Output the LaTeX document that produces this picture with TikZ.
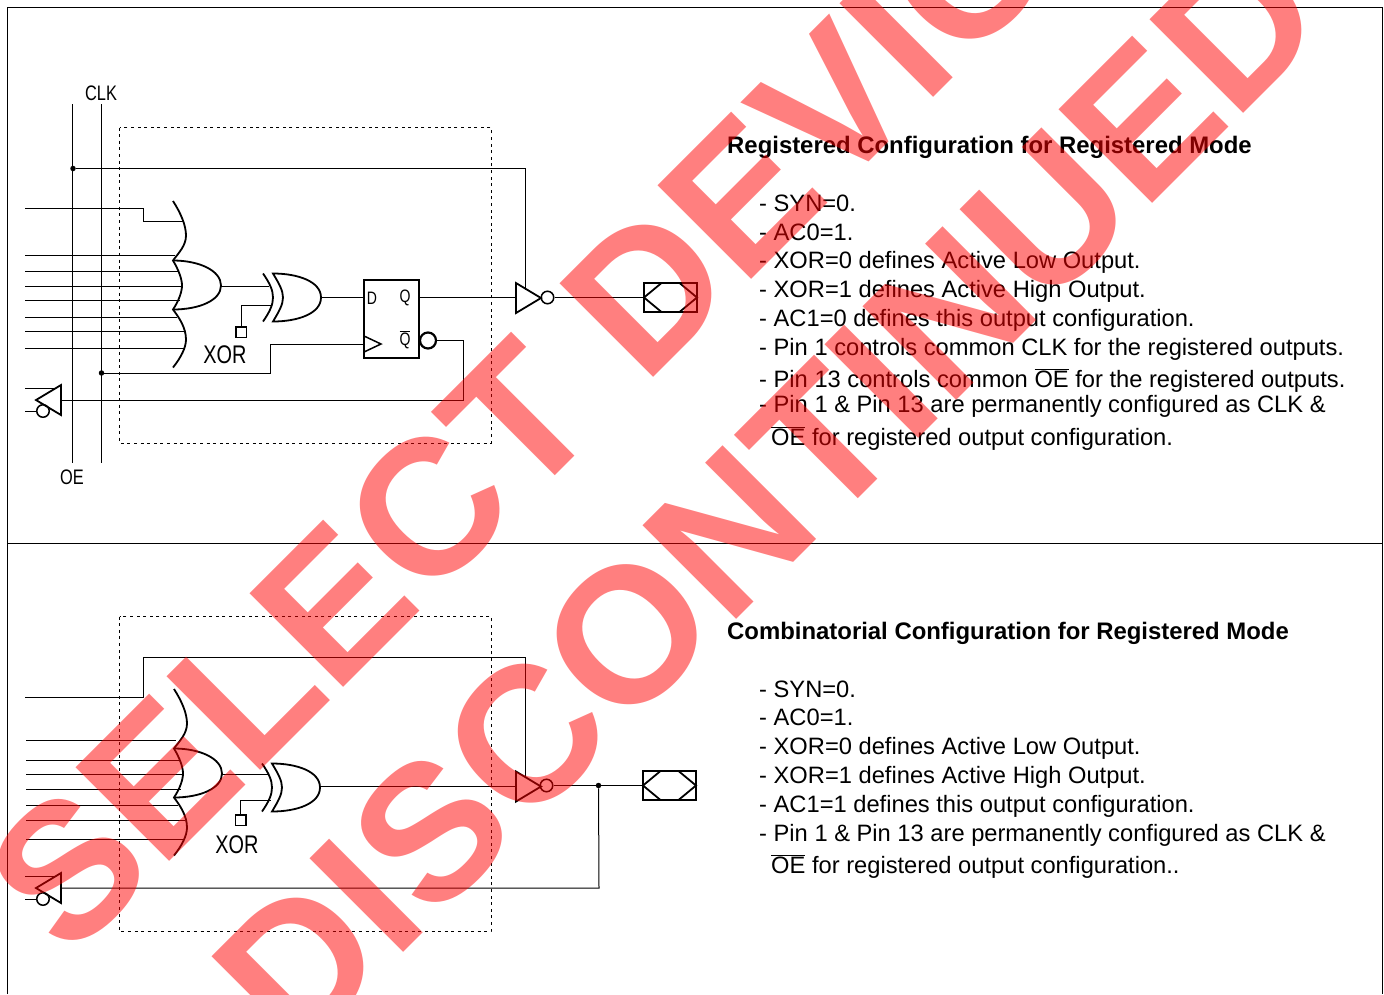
\documentclass[tikz,border=0pt]{standalone}
\usepackage{fontspec}
\setmainfont{Liberation Sans}
\newfontfamily\narrowfont[FakeStretch=0.78]{Liberation Sans}
\usetikzlibrary{positioning}

\tikzset{
  wire/.style={line width=1pt},
  shape line/.style={line width=1.8pt},
  fence/.style={line width=1pt,dash pattern=on 3pt off 3.6pt},
  dotj/.style={circle,fill=black,inner sep=0pt,minimum size=5.5pt},
  bub/.style={circle,draw,line width=1.5pt,inner sep=0pt,minimum size=12.5pt},
  ffbox/.style={rectangle,draw,line width=1.8pt,inner sep=0pt,minimum width=55pt,minimum height=78pt},
  padbox/.style={rectangle,draw,line width=1.8pt,inner sep=0pt,minimum width=53pt,minimum height=29pt},
  xorsq/.style={rectangle,draw,line width=1.5pt,inner sep=0pt,minimum size=10.5pt},
  xorlbl/.style={font=\narrowfont\fontsize{25.5}{25.5}\selectfont,inner sep=0pt},
  netlbl/.style={font=\narrowfont\fontsize{21}{21}\selectfont,inner sep=0pt},
  pinlbl/.style={font=\narrowfont\fontsize{18}{18}\selectfont,inner sep=0pt},
  title/.style={font=\bfseries\fontsize{23.9}{24}\selectfont,anchor=base west,inner sep=0pt},
  note/.style={font=\fontsize{23.7}{24}\selectfont,anchor=base west,inner sep=0pt},
  stamp/.style={font=\bfseries\fontsize{192.5}{192.5}\selectfont,text=red,text opacity=0.5,rotate=45,anchor=base west,inner sep=0pt},
  pics/wideor/.style={code={
    \draw[shape line] (-11,-84.5) .. controls (-3,-72) and (2,-60) .. (2,-50) .. controls (2,-40) and (-5,-33) .. (-11,-25) .. controls (-5,-15) and (-2,-6) .. (-2,0)
      .. controls (-2,6) and (-5,15) .. (-11,24) .. controls (-5,32) and (2,42) .. (2,54) .. controls (2,62) and (-3,72) .. (-11,82);
    \draw[shape line] (-11,-25) .. controls (15,-25) and (37,-15) .. (37,0) .. controls (37,15) and (15,24) .. (-11,24);
  }},
  pics/xorg/.style={code={
    \draw[shape line] (-10,-24) .. controls (-3,-14) and (0,-7) .. (0,0) .. controls (0,7) and (-3,14) .. (-10,24);
    \draw[shape line] (0,-24) .. controls (6,-14) and (10,-7) .. (10,0) .. controls (10,7) and (6,14) .. (0,24)
      .. controls (25,24) and (48,16) .. (48,0) .. controls (48,-16) and (25,-24) .. (0,-24) -- cycle;
  }},
  pics/bufr/.style={code={
    \draw[shape line] (0,-15) -- (25,0) -- (0,15) -- cycle;
  }},
  pics/bufl/.style={code={
    \draw[shape line] (0,-15) -- (-25,0) -- (0,15) -- cycle;
  }},
  pics/hexa/.style={code={
    \draw[shape line] (-9,-14.5) -- (-26.5,0) -- (-9,14.5) (9,-14.5) -- (26.5,0) -- (9,14.5);
  }}
}

\begin{document}
\begin{tikzpicture}[x=1pt,y=-1pt]
  \useasboundingbox (0,0) rectangle (1384,994);

  % outer frame
  \coordinate (fa) at (7.5,994);
  \coordinate (fb) at (7.5,7.5);
  \coordinate (fc) at (1382.5,7.5);
  \coordinate (fd) at (1382.5,994);
  \coordinate (fe) at (7.5,543.5);
  \coordinate (ff) at (1382.5,543.5);
  \draw[wire] (fa) -- (fb) -- (fc) -- (fd);
  \draw[wire] (fe) -- (ff);

  % registered configuration
  \draw[fence] (119.5,127.5) rectangle (491,443);
  \coordinate (oet) at (72.5,104);
  \coordinate (oeb) at (72.5,463);
  \coordinate (clkt) at (101.5,104);
  \coordinate (clkb) at (101.5,463);
  \draw[wire] (oet) -- (oeb);
  \draw[wire] (clkt) -- (clkb);
  \node[netlbl] (clklbl) at (101,93) {CLK};
  \node[netlbl] (oelbl) at (72,477) {OE};

  \node[dotj] (oej) at (73,168.5) {};
  \node[dotj] (clkj) at (101.5,373) {};

  \pic at (184,285.5) {wideor};
  \pic at (273,297.5) {xorg};
  \node[ffbox] (ff1) at (391.5,319) {};
  \node[pinlbl] (dlbl) at (372,298) {D};
  \node[pinlbl] (qlbl) at (405,298) {Q};
  \node[pinlbl] (nqlbl) at (405,340) {$\overline{\mbox{Q}}$};
  \draw[wire,line width=1.5pt] (364,336) -- (381,344) -- (364,352);
  \node[bub,line width=2.2pt,minimum size=16pt] (nq) at (428,340.5) {};
  \pic at (516,298) {bufr};
  \node[bub] (oebub1) at (547.5,297.5) {};
  \node[padbox] (pad1) at (670.5,297.5) {};
  \pic at (670.5,297.5) {hexa};
  \pic at (61,400) {bufl};
  \node[bub] (inbub1) at (43,411) {};
  \node[xorsq] (xbox1) at (241,332) {};
  \node[xorlbl] (xlbl1) at (225,355) {XOR};

  \foreach \yy/\xx in {255/175,271/178,286/182,300/180,317/177,331.5/184,348/184}
    \draw[wire] (25,\yy) -- (\xx,\yy);
  \draw[wire] (25,208.5) -- (143.5,208.5) -- (143.5,221) -- (183,221);
  \draw[wire] (oej) -- (525,168.5) -- (525,290);
  \draw[wire] (221,286) -- (269,286);
  \draw[wire] (xbox1) |- (272,305);
  \draw[wire] (321,297.5) -- (ff1.west |- 321,297.5);
  \draw[wire] (clkj) -- (270.5,373) -- (270.5,344) -- (364,344);
  \draw[wire] (ff1.east |- 419,297.5) -- (516,297.5);
  \draw[wire] (oebub1) -- (pad1);
  \draw[wire] (nq) -- (463.5,340.5) -- (463.5,400.5) -- (61,400.5);
  \draw[wire] (25,388) -- (55,388);
  \draw[wire] (25,411) -- (inbub1);

  % combinatorial configuration
  \draw[fence] (119.5,616.5) rectangle (491,931.5);
  \pic at (185,773.5) {wideor};
  \pic at (272,787.5) {xorg};
  \pic at (516,786.5) {bufr};
  \node[bub] (oebub2) at (546.5,785.5) {};
  \node[dotj] (outj) at (598.5,785.5) {};
  \node[padbox] (pad2) at (669.5,785.5) {};
  \pic at (669.5,785.5) {hexa};
  \pic at (61,888) {bufl};
  \node[bub] (inbub2) at (43,899) {};
  \node[xorsq] (xbox2) at (240.5,820) {};
  \node[xorlbl] (xlbl2) at (237,845) {XOR};

  \foreach \yy/\xx in {740/176,760/179,774/183,789/181,805/178,820/185,839/185}
    \draw[wire] (26,\yy) -- (\xx,\yy);
  \draw[wire] (25,697) -- (143.5,697) -- (143.5,657) -- (525,657) -- (525,778);
  \draw[wire] (222,774) -- (268,774);
  \draw[wire] (xbox2) |- (271,800);
  \draw[wire] (320,786.5) -- (516,786.5);
  \draw[wire] (oebub2) -- (pad2);
  \draw[wire] (outj) -- (599,888) -- (61,888);
  \draw[wire] (25,876) -- (55,876);
  \draw[wire] (25,899) -- (inbub2);

  % notes
  \node[title] (t1) at (727,153) {Registered Configuration for Registered Mode};
  \node[note] (n1) at (759,211) {- SYN=0.};
  \node[note] (n2) at (759,240) {- AC0=1.};
  \node[note] (n3) at (759,268) {- XOR=0 defines Active Low Output.};
  \node[note] (n4) at (759,297) {- XOR=1 defines Active High Output.};
  \node[note] (n5) at (759,326) {- AC1=0 defines this output configuration.};
  \node[note] (n6) at (759,355) {- Pin 1 controls common CLK for the registered outputs.};
  \node[note] (n7) at (759,387) {- Pin 13 controls common $\overline{\mbox{OE}}$ for the registered outputs.};
  \node[note] (n8) at (759,412) {- Pin 1 \& Pin 13 are permanently configured as CLK \&};
  \node[note] (n9) at (771,445) {$\overline{\mbox{OE}}$ for registered output configuration.};

  \node[title] (t2) at (727,639) {Combinatorial Configuration for Registered Mode};
  \node[note] (m1) at (759,697) {- SYN=0.};
  \node[note] (m2) at (759,725) {- AC0=1.};
  \node[note] (m3) at (759,754) {- XOR=0 defines Active Low Output.};
  \node[note] (m4) at (759,783) {- XOR=1 defines Active High Output.};
  \node[note] (m5) at (759,812) {- AC1=1 defines this output configuration.};
  \node[note] (m6) at (759,841) {- Pin 1 \& Pin 13 are permanently configured as CLK \&};
  \node[note] (m7) at (771,873) {$\overline{\mbox{OE}}$ for registered output configuration..};

  % watermark
  \node[stamp] (w1) at (69.5,961.5) {SELECT DEVICES};
  \node[stamp] (w2) at (296.5,1060) {DISCONTINUED};
\end{tikzpicture}
\end{document}
